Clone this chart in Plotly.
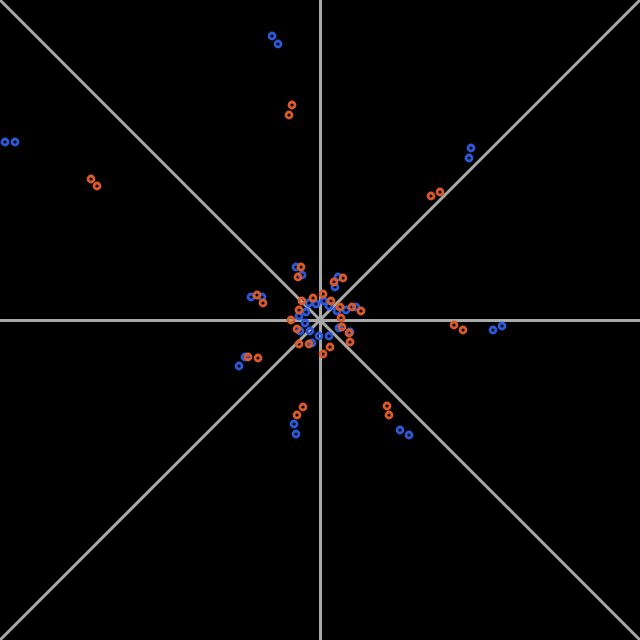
import plotly.graph_objects as go

# point positions, centred coordinates
blue_x = [-48, -42, -315, -305, 151, 149, 173, 182, 80, 89, -26, -24, -81, -75,
          -69, -58, -24, -18, 18, 15,
          -11, -4, 4, 9, 26, 36, 17, -14, -21, -15, -20, -10, 19, 30, -1, 9, -8]
blue_y = [284, 276, 178, 178, 172, 162, -10, -6, -110, -115, -104, -114, -46, -37,
          23, 23, 53, 45, 43, 33,
          17, 16, 19, 14, 10, 13, 9, 8, 4, -3, -11, -11, -8, -12, -16, -16, -23]

orange_x = [-28, -31, -229, -223, 111, 120, 134, 143, 67, 69, -17, -23, -72, -62,
            -63, -57, -19, -22, 23, 14,
            -18, -7, 3, 11, 20, 32, 41, 21, -21, -29, -23, 22, 29, 30, -21, -11, 10, 3]
orange_y = [215, 205, 141, 134, 124, 128, -5, -10, -86, -95, -87, -95, -37, -38,
            25, 17, 53, 43, 42, 38,
            19, 22, 26, 19, 13, 13, 9, 2, 10, 0, -9, -7, -13, -22, -24, -24, -27, -34]

axis_half = 320

fig = go.Figure()

# diagonal guide lines
fig.add_shape(type="line", xref="paper", yref="paper", x0=0, y0=0, x1=1, y1=1,
              line=dict(color="#a9a9a9", width=3), layer="below")
fig.add_shape(type="line", xref="paper", yref="paper", x0=0, y0=1, x1=1, y1=0,
              line=dict(color="#a9a9a9", width=3), layer="below")

marker_common = dict(symbol="circle-open", size=6)
fig.add_trace(go.Scatter(x=blue_x, y=blue_y, mode="markers",
                         marker=dict(color="#2a5ad8", line=dict(width=2.8, color="#2a5ad8"), **marker_common),
                         showlegend=False, hoverinfo="skip"))
fig.add_trace(go.Scatter(x=orange_x, y=orange_y, mode="markers",
                         marker=dict(color="#dc5a2a", line=dict(width=2.8, color="#dc5a2a"), **marker_common),
                         showlegend=False, hoverinfo="skip"))

axis_common = dict(range=[-axis_half, axis_half], showgrid=False, showticklabels=False,
                   ticks="", zeroline=True, zerolinecolor="#a9a9a9", zerolinewidth=3,
                   showline=False, fixedrange=True)
fig.update_xaxes(**axis_common)
fig.update_yaxes(**axis_common)

fig.update_layout(width=640, height=640, margin=dict(l=0, r=0, t=0, b=0),
                  paper_bgcolor="black", plot_bgcolor="black", showlegend=False)

fig.write_html("out.html")
